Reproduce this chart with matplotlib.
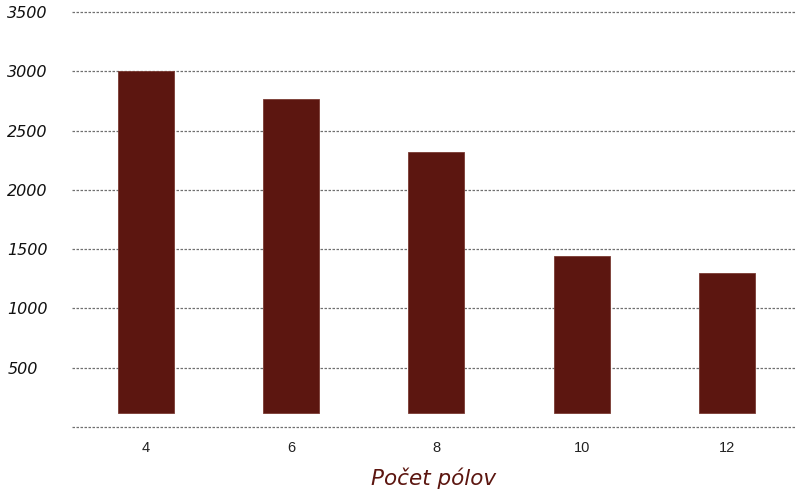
import matplotlib
matplotlib.use("Agg")
import matplotlib.pyplot as plt

categories = ["4", "6", "8", "10", "12"]
values = [3000, 2763, 2316, 1445, 1302]
bar_base = 120
yticks = [0, 500, 1000, 1500, 2000, 2500, 3000, 3500]
ytick_labels = ["", "500", "1000", "1500", "2000", "2500", "3000", "3500"]

fig = plt.figure(figsize=(7.95, 4.95), dpi=100)
ax = fig.add_axes([72/795, (495-427)/495, 1 - 72/795, (427-12)/495])

x = list(range(len(categories)))
heights = [v - bar_base for v in values]
ax.bar(x, heights, bottom=bar_base, width=0.385, color="#5c1610",
       edgecolor="#7a3a33", linewidth=0.6, zorder=3)

ax.set_xlim(-0.51, 4.47)
ax.set_ylim(0, 3500)
ax.set_yticks(yticks)
ax.set_yticklabels(ytick_labels, fontsize=11.5, style="italic",
                   family="DejaVu Sans", color="#111111", ha="left")
ax.tick_params(axis="y", length=0, pad=46.5)
ax.set_xticks(x)
ax.set_xticklabels(categories, fontsize=10.5, family="Liberation Sans", color="#222222")
ax.tick_params(axis="x", length=0, pad=10)

for yv in yticks:
    ax.axhline(yv, color="#707070", linestyle=(0, (2.0, 1.2)), linewidth=0.9,
               zorder=1, clip_on=False)

for s in ax.spines.values():
    s.set_visible(False)

ax.set_xlabel("Počet pólov", fontsize=15.5, style="italic", family="DejaVu Sans",
              color="#5c1610", labelpad=9)

fig.savefig("out.png", dpi=100)
